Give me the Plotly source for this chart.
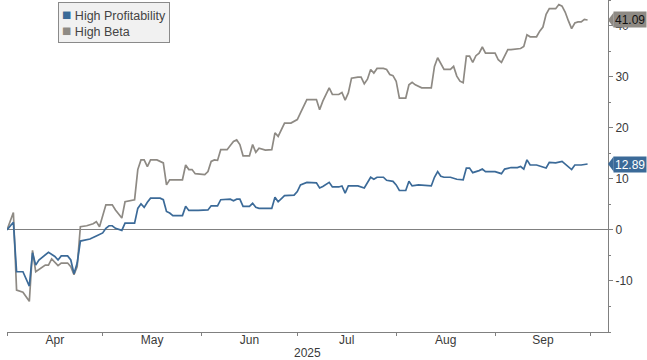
import plotly.graph_objects as go

YEAR = "2025"

# ---- High Profitability (vertex readings, MM-DD) ----
hp_dates = [
    "04-01", "04-03", "04-04", "04-06", "04-08", "04-09", "04-10", "04-11", "04-14", "04-16",
    "04-17", "04-18", "04-20", "04-21", "04-22", "04-23", "04-24", "04-27", "04-29",
    "05-01", "05-02", "05-03", "05-04", "05-05", "05-07", "05-08", "05-11", "05-12", "05-13",
    "05-14", "05-15", "05-16", "05-19", "05-20", "05-21", "05-22", "05-23", "05-26", "05-27",
    "05-28", "05-31",
    "06-03", "06-04", "06-06", "06-07", "06-10", "06-11", "06-12", "06-13", "06-14", "06-16",
    "06-17", "06-18", "06-19", "06-23", "06-24", "06-25", "06-27", "06-30",
    "07-01", "07-02", "07-04", "07-07", "07-08", "07-09", "07-11", "07-12", "07-14", "07-15",
    "07-16", "07-17", "07-20", "07-22", "07-24", "07-25", "07-26", "07-28", "07-29", "07-31",
    "08-01", "08-02", "08-04", "08-05", "08-06", "08-08", "08-12", "08-13", "08-14", "08-15",
    "08-16", "08-18", "08-20", "08-22", "08-23", "08-24", "08-25", "08-27", "08-28", "08-29",
    "09-01", "09-03", "09-04", "09-06", "09-08", "09-09", "09-10", "09-11", "09-12", "09-14",
    "09-15", "09-17", "09-18", "09-20", "09-22", "09-23", "09-24", "09-25", "09-26", "09-28",
    "09-30",
]
hp_vals = [
    0.0, 1.5, -8.2, -8.2, -11.0, -4.5, -6.9, -5.9, -4.4, -5.2,
    -5.9, -5.1, -5.1, -5.9, -8.6, -6.5, -2.2, -1.8, -1.2,
    -0.6, 0.3, 0.8, 0.8, 0.3, -0.1, 1.3, 1.3, 4.2, 5.1,
    4.4, 5.4, 6.2, 6.2, 5.9, 3.6, 3.3, 2.8, 2.8, 4.6,
    3.8, 3.8,
    3.9, 4.7, 4.7, 5.9, 6.0, 5.7, 6.0, 6.0, 4.6, 4.6,
    5.2, 4.4, 4.2, 4.2, 6.4, 5.5, 6.7, 6.8,
    7.5, 8.8, 9.3, 9.2, 8.2, 8.5, 9.3, 8.4, 8.4, 8.6,
    7.2, 8.6, 8.6, 8.2, 10.3, 9.9, 10.3, 10.3, 9.7, 9.5,
    8.8, 7.7, 7.7, 9.5, 8.6, 8.8, 8.6, 10.3, 11.4, 10.5,
    10.3, 10.3, 9.9, 9.8, 12.1, 12.1, 11.2, 11.6, 11.9, 11.4,
    11.4, 11.0, 11.9, 12.2, 12.2, 12.4, 11.9, 13.7, 12.7, 12.7,
    12.5, 12.1, 13.2, 13.1, 13.4, 12.9, 12.4, 11.8, 12.7, 12.7,
    12.89,
]

# ---- High Beta (vertex readings, MM-DD) ----
hb_dates = [
    "04-01", "04-03", "04-04", "04-06", "04-08", "04-09", "04-10", "04-11", "04-13", "04-14",
    "04-15", "04-17", "04-18", "04-20", "04-21", "04-22", "04-23", "04-24", "04-26", "04-28",
    "04-29", "04-30",
    "05-02", "05-04", "05-05", "05-07", "05-08", "05-11", "05-12", "05-13", "05-14", "05-15",
    "05-16", "05-18", "05-19", "05-20", "05-21", "05-22", "05-26", "05-27", "05-28", "05-29",
    "05-30",
    "06-02", "06-03", "06-04", "06-05", "06-06", "06-07", "06-09", "06-10", "06-11", "06-12",
    "06-13", "06-14", "06-16", "06-17", "06-18", "06-19", "06-21", "06-23", "06-24", "06-25",
    "06-27", "06-29",
    "07-01", "07-02", "07-04", "07-07", "07-08", "07-09", "07-11", "07-12", "07-14", "07-15",
    "07-16", "07-17", "07-18", "07-20", "07-21", "07-22", "07-23", "07-24", "07-25", "07-26",
    "07-28", "07-29", "07-30", "07-31",
    "08-01", "08-02", "08-04", "08-05", "08-06", "08-07", "08-09", "08-12", "08-13", "08-14",
    "08-15", "08-16", "08-18", "08-19", "08-20", "08-21", "08-22", "08-23", "08-24", "08-25",
    "08-26", "08-27", "08-28", "08-29",
    "09-01", "09-02", "09-03", "09-05", "09-06", "09-08", "09-09", "09-10", "09-11", "09-12",
    "09-14", "09-15", "09-16", "09-17", "09-18", "09-20", "09-21", "09-22", "09-23", "09-24",
    "09-25", "09-26", "09-27", "09-28", "09-29", "09-30",
]
hb_vals = [
    0.0, 3.4, -11.8, -12.2, -14.0, -4.0, -8.2, -7.8, -6.9, -6.9,
    -5.7, -7.0, -6.5, -6.5, -7.2, -8.8, -7.2, 0.6, 0.8, 1.2,
    1.6, 0.6,
    4.9, 4.9, 3.9, 2.3, 5.5, 5.9, 11.8, 13.7, 13.7, 12.4,
    13.7, 13.7, 13.4, 13.1, 8.8, 9.8, 9.8, 12.7, 11.8, 11.8,
    11.0,
    10.8, 11.4, 13.4, 13.7, 13.6, 15.7, 15.7, 16.5, 17.3, 17.6,
    16.7, 14.5, 14.5, 16.7, 15.2, 16.0, 15.6, 15.7, 19.0, 18.3,
    20.9, 20.9,
    21.6, 22.9, 25.5, 25.5, 23.5, 25.2, 27.8, 26.5, 26.5, 26.9,
    25.4, 26.8, 29.7, 29.9, 29.9, 28.6, 29.5, 31.4, 30.7, 31.6,
    31.6, 31.4, 30.4, 30.2,
    29.1, 25.8, 25.8, 28.4, 28.9, 28.4, 27.8, 27.8, 32.0, 33.7,
    32.4, 31.4, 31.4, 32.0, 30.1, 29.1, 28.8, 34.0, 34.0, 32.8,
    34.1, 34.6, 35.8, 34.6,
    34.6, 33.3, 32.8, 35.3, 35.3, 35.4, 35.5, 35.9, 38.2, 37.8,
    37.8, 38.9, 39.7, 42.2, 43.3, 43.3, 44.1, 43.8, 42.6, 40.9,
    39.4, 40.5, 40.7, 40.7, 41.2, 41.09,
]

series_names = ["High Profitability", "High Beta"]
y_tickvals = [-10, 0, 10, 20, 30, 40]
y_ticktext = ["-10", "0", "10", "20", "30", "40"]
x_range = ["2025-04-01", "2025-10-06 09:36"]
y_range = [-20, 45]

BLUE = "#3b6a98"
GREY = "#8e8a84"
AXIS = "#808080"
TEXT = "#3a3a3a"
FONT = "Liberation Sans, Arial, sans-serif"

W, H = 647, 360
M = dict(l=7, r=39, t=0, b=28)

assert len(hp_dates) == len(hp_vals), (len(hp_dates), len(hp_vals))
assert len(hb_dates) == len(hb_vals), (len(hb_dates), len(hb_vals))

hp_x = [f"{YEAR}-{d}" for d in hp_dates]
hb_x = [f"{YEAR}-{d}" for d in hb_dates]

fig = go.Figure()
fig.add_trace(go.Scatter(x=hb_x, y=hb_vals, mode="lines", name=series_names[1],
                         line=dict(color=GREY, width=1.7), showlegend=False))
fig.add_trace(go.Scatter(x=hp_x, y=hp_vals, mode="lines", name=series_names[0],
                         line=dict(color=BLUE, width=1.7), showlegend=False))

fig.update_layout(
    width=W, height=H, margin=M,
    paper_bgcolor="white", plot_bgcolor="white",
    font=dict(family=FONT, size=12, color=TEXT),
    showlegend=False,
    xaxis=dict(type="date", range=x_range, dtick="M1", tick0="2025-04-01",
               tickformat="%b", ticklabelmode="period", showgrid=False,
               showline=True, linecolor=AXIS, linewidth=1,
               ticks="outside", ticklen=3, tickcolor=AXIS, ticklabelstandoff=-6,
               tickfont=dict(size=12, color=TEXT), zeroline=False),
    yaxis=dict(side="right", range=y_range, tickmode="array",
               tickvals=y_tickvals, ticktext=y_ticktext, showgrid=False,
               showline=True, linecolor=AXIS, linewidth=1,
               ticks="outside", ticklen=4, tickcolor=AXIS,
               minor=dict(dtick=5, tick0=-20, ticks="outside", ticklen=2, tickcolor=AXIS),
               zeroline=True, zerolinecolor=AXIS, zerolinewidth=1,
               tickfont=dict(size=12, color=TEXT)),
)

# legend box (square swatches + series names)
legend_text = "<br>".join(
    f"<span style='color:{c};font-size:15.5px'>■</span> {n}"
    for n, c in zip(series_names, [BLUE, GREY])
)
fig.add_annotation(text=legend_text, xref="paper", yref="paper",
                   x=(58 - M["l"]) / (W - M["l"] - M["r"]), y=1 - 2 / (H - M["t"] - M["b"]),
                   xanchor="left", yanchor="top", align="left", showarrow=False,
                   bgcolor="#f1f1f1", bordercolor="#8a8a8a", borderwidth=1, borderpad=3,
                   font=dict(family=FONT, size=12.5, color="#444444"))

fig.add_annotation(text=YEAR, xref="paper", yref="paper", x=0.5, y=0,
                   xanchor="center", yanchor="top", yshift=-12, showarrow=False,
                   font=dict(size=12, color=TEXT))

# end-value flags on the right axis
plot_h = H - M["t"] - M["b"]
plot_w = W - M["l"] - M["r"]
units_per_px = (y_range[1] - y_range[0]) / plot_h
half_h = 7.5 * units_per_px
tri_w = 5 / plot_w
for vals, col, fcol in [(hb_vals, GREY, "#111111"), (hp_vals, BLUE, "white")]:
    last = vals[-1]
    fig.add_annotation(text=f"{last:.2f}", xref="paper", yref="y", x=1 + tri_w, y=last,
                       xanchor="left", yanchor="middle", showarrow=False,
                       bgcolor=col, borderpad=1, font=dict(size=12, color=fcol),
                       height=13)
    fig.add_shape(type="path", xref="paper", yref="y",
                  path=f"M 1,{last} L {1 + tri_w + 0.001},{last + half_h} L {1 + tri_w + 0.001},{last - half_h} Z",
                  fillcolor=col, line=dict(width=0))

fig.write_html("out.html", config={"displayModeBar": False},
               post_script="document.body.style.margin='0px';")
